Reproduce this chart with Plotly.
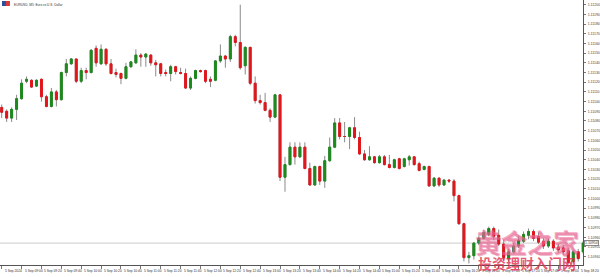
import plotly.graph_objects as go

symbol_title = "EURUSD, M5: Euro vs U.S. Dollar"

open_ = [1.11094, 1.11090, 1.11083, 1.11092, 1.11103, 1.11121, 1.11122, 1.11116, 1.11123, 1.11105,
         1.11095, 1.11110, 1.11102, 1.11130, 1.11139, 1.11144, 1.11121, 1.11132, 1.11130, 1.11155,
         1.11139, 1.11154, 1.11139, 1.11130, 1.11129, 1.11124, 1.11136, 1.11140, 1.11148, 1.11146,
         1.11148, 1.11140, 1.11139, 1.11130, 1.11129, 1.11136, 1.11130, 1.11129, 1.11114, 1.11124,
         1.11132, 1.11132, 1.11123, 1.11122, 1.11142, 1.11147, 1.11144, 1.11167, 1.11161, 1.11137,
         1.11156, 1.11119, 1.11101, 1.11099, 1.11091, 1.11084, 1.11107, 1.11022, 1.11035, 1.11053,
         1.11043, 1.11053, 1.11031, 1.11014, 1.11033, 1.11018, 1.11039, 1.11053, 1.11078, 1.11064,
         1.11064, 1.11073, 1.11063, 1.11046, 1.11040, 1.11043, 1.11037, 1.11043, 1.11035, 1.11032,
         1.11041, 1.11033, 1.11040, 1.11043, 1.11036, 1.11030, 1.11033, 1.11013, 1.11021, 1.11014,
         1.11019, 1.11018, 1.11003, 1.10974, 1.10939, 1.10941, 1.10954, 1.10959, 1.10963, 1.10969,
         1.10962, 1.10953, 1.10938, 1.10945, 1.10951, 1.10956, 1.10962, 1.10966, 1.10961, 1.10956,
         1.10951, 1.10956, 1.10950, 1.10949, 1.10946, 1.10935, 1.10945, 1.10945]
high = [1.11097, 1.11092, 1.11094, 1.11107, 1.11123, 1.11126, 1.11123, 1.11123, 1.11124, 1.11107,
        1.11114, 1.11112, 1.11131, 1.11144, 1.11145, 1.11144, 1.11135, 1.11135, 1.11154, 1.11158,
        1.11159, 1.11155, 1.11144, 1.11134, 1.11130, 1.11140, 1.11142, 1.11154, 1.11150, 1.11150,
        1.11149, 1.11143, 1.11140, 1.11133, 1.11138, 1.11137, 1.11135, 1.11134, 1.11126, 1.11133,
        1.11133, 1.11133, 1.11126, 1.11143, 1.11159, 1.11148, 1.11169, 1.11169, 1.11200, 1.11157,
        1.11156, 1.11126, 1.11107, 1.11109, 1.11093, 1.11108, 1.11107, 1.11043, 1.11058, 1.11058,
        1.11058, 1.11058, 1.11037, 1.11034, 1.11034, 1.11044, 1.11063, 1.11083, 1.11083, 1.11079,
        1.11074, 1.11084, 1.11069, 1.11050, 1.11054, 1.11044, 1.11045, 1.11045, 1.11045, 1.11041,
        1.11042, 1.11042, 1.11045, 1.11044, 1.11038, 1.11034, 1.11034, 1.11022, 1.11022, 1.11020,
        1.11020, 1.11020, 1.11004, 1.10975, 1.10945, 1.10955, 1.10962, 1.10968, 1.10971, 1.10971,
        1.10968, 1.10957, 1.10948, 1.10954, 1.10961, 1.10966, 1.10969, 1.10968, 1.10965, 1.10959,
        1.10959, 1.10958, 1.10953, 1.10952, 1.10949, 1.10947, 1.10948, 1.10956]
low = [1.11083, 1.11079, 1.11079, 1.11081, 1.11102, 1.11119, 1.11114, 1.11115, 1.11100, 1.11094,
       1.11094, 1.11095, 1.11101, 1.11126, 1.11138, 1.11119, 1.11119, 1.11123, 1.11129, 1.11136,
       1.11138, 1.11137, 1.11128, 1.11125, 1.11118, 1.11123, 1.11135, 1.11139, 1.11136, 1.11136,
       1.11137, 1.11126, 1.11126, 1.11126, 1.11121, 1.11128, 1.11128, 1.11113, 1.11112, 1.11123,
       1.11130, 1.11119, 1.11115, 1.11121, 1.11140, 1.11135, 1.11141, 1.11157, 1.11133, 1.11128,
       1.11117, 1.11098, 1.11097, 1.11090, 1.11079, 1.11083, 1.11018, 1.11007, 1.11034, 1.11035,
       1.11042, 1.11030, 1.11013, 1.11013, 1.11014, 1.11011, 1.11038, 1.11052, 1.11061, 1.11058,
       1.11051, 1.11061, 1.11045, 1.11039, 1.11039, 1.11036, 1.11036, 1.11034, 1.11031, 1.11031,
       1.11030, 1.11032, 1.11034, 1.11034, 1.11028, 1.11029, 1.11012, 1.11012, 1.11012, 1.11013,
       1.11016, 1.10997, 1.10973, 1.10935, 1.10933, 1.10937, 1.10952, 1.10958, 1.10961, 1.10957,
       1.10951, 1.10935, 1.10935, 1.10943, 1.10949, 1.10954, 1.10958, 1.10956, 1.10953, 1.10948,
       1.10949, 1.10946, 1.10944, 1.10942, 1.10932, 1.10933, 1.10935, 1.10943]
close = [1.11089, 1.11083, 1.11092, 1.11103, 1.11119, 1.11123, 1.11115, 1.11122, 1.11105, 1.11095,
         1.11110, 1.11102, 1.11130, 1.11139, 1.11144, 1.11121, 1.11132, 1.11130, 1.11153, 1.11140,
         1.11154, 1.11139, 1.11129, 1.11128, 1.11124, 1.11136, 1.11141, 1.11148, 1.11146, 1.11149,
         1.11140, 1.11138, 1.11129, 1.11129, 1.11136, 1.11131, 1.11129, 1.11114, 1.11124, 1.11132,
         1.11131, 1.11121, 1.11121, 1.11142, 1.11147, 1.11144, 1.11167, 1.11161, 1.11135, 1.11156,
         1.11119, 1.11101, 1.11099, 1.11091, 1.11084, 1.11107, 1.11022, 1.11035, 1.11053, 1.11043,
         1.11053, 1.11031, 1.11014, 1.11033, 1.11018, 1.11039, 1.11053, 1.11078, 1.11064, 1.11064,
         1.11073, 1.11063, 1.11046, 1.11040, 1.11043, 1.11037, 1.11043, 1.11035, 1.11032, 1.11040,
         1.11031, 1.11041, 1.11043, 1.11035, 1.11029, 1.11033, 1.11013, 1.11021, 1.11014, 1.11019,
         1.11018, 1.11003, 1.10974, 1.10939, 1.10941, 1.10954, 1.10959, 1.10965, 1.10969, 1.10961,
         1.10953, 1.10939, 1.10945, 1.10951, 1.10957, 1.10963, 1.10966, 1.10959, 1.10955, 1.10951,
         1.10956, 1.10949, 1.10947, 1.10945, 1.10934, 1.10945, 1.10938, 1.10954]
bar_index = list(range(len(close)))

time_label_index = list(range(0, 117, 4))
time_labels = ["5 Sep 2024", "5 Sep 09:00", "5 Sep 09:20", "5 Sep 09:40", "5 Sep 10:00",
               "5 Sep 10:20", "5 Sep 10:40", "5 Sep 11:00", "5 Sep 11:20", "5 Sep 11:40",
               "5 Sep 12:00", "5 Sep 12:20", "5 Sep 12:40", "5 Sep 13:00", "5 Sep 13:20",
               "5 Sep 13:40", "5 Sep 14:00", "5 Sep 14:20", "5 Sep 14:40", "5 Sep 15:00",
               "5 Sep 15:20", "5 Sep 15:40", "5 Sep 16:00", "5 Sep 16:20", "5 Sep 16:40",
               "5 Sep 17:00", "5 Sep 17:20", "5 Sep 17:40", "5 Sep 18:00", "5 Sep 18:20"]

last_price = 1.10954
price_low, price_high = 1.109314, 1.1120485
watermark_1 = "黄金之家"
watermark_2 = "投资理财入门网"

GREEN = "#1c8a1c"
RED = "#e3161c"
WICK = "#8a8a8a"

body_high = [max(o, c) for o, c in zip(open_, close)]
body_low = [min(o, c) for o, c in zip(open_, close)]

fig = go.Figure()
# wicks
fig.add_trace(go.Candlestick(
    x=bar_index, open=open_, high=high, low=low, close=close,
    increasing=dict(line=dict(color=WICK, width=1), fillcolor=WICK),
    decreasing=dict(line=dict(color=WICK, width=1), fillcolor=WICK),
    hoverinfo="skip", showlegend=False))
# bodies
fig.add_trace(go.Candlestick(
    x=bar_index, open=open_, high=body_high, low=body_low, close=close,
    increasing=dict(line=dict(color=GREEN, width=1), fillcolor=GREEN),
    decreasing=dict(line=dict(color=RED, width=1), fillcolor=RED),
    hoverinfo="skip", showlegend=False))

fig.add_shape(type="line", xref="paper", x0=0, x1=1, yref="y", y0=last_price, y1=last_price,
              line=dict(color="#cccccc", width=1), layer="below")

annotations = []
for idx, txt in zip(time_label_index, time_labels):
    annotations.append(dict(x=idx, xref="x", y=0, yref="paper", yanchor="top", xanchor="left",
                            yshift=-2, xshift=1, text=txt, showarrow=False,
                            font=dict(size=3.3, color="#333333", family="Arial")))
annotations.append(dict(x=1, xref="paper", y=last_price, yref="y", xanchor="left", xshift=1,
                        text="%.5f" % last_price, showarrow=False, bgcolor="white",
                        bordercolor="#888888", borderwidth=1, borderpad=0,
                        font=dict(size=3.5, color="#333333", family="Arial")))
annotations.append(dict(x=12 / 586, xref="paper", y=1, yref="paper", xanchor="left", yanchor="top",
                        yshift=-1, text=symbol_title, showarrow=False,
                        font=dict(size=3.2, color="#333333", family="Arial")))
annotations.append(dict(x=530 / 586, xref="paper", y=(265 - 241) / 265, yref="paper",
                        xanchor="center", yanchor="middle", text="<b>" + watermark_1 + "</b>",
                        showarrow=False,
                        font=dict(size=26, color="rgba(238,110,155,0.62)", family="Noto Sans CJK SC",
                                  shadow="1px 1px 0px rgba(200,40,90,0.5)")))
annotations.append(dict(x=530 / 586, xref="paper", y=(265 - 263) / 265, yref="paper",
                        xanchor="center", yanchor="middle", text="<b>" + watermark_2 + "</b>",
                        showarrow=False,
                        font=dict(size=14, color="rgba(226,45,75,0.78)", family="Noto Sans CJK SC")))

fig.add_shape(type="rect", xref="paper", yref="paper", x0=2 / 586, x1=6 / 586,
              y0=(265 - 6) / 265, y1=(265 - 1) / 265, fillcolor="#2d4f9e", line=dict(width=0))
fig.add_shape(type="rect", xref="paper", yref="paper", x0=6 / 586, x1=10 / 586,
              y0=(265 - 6) / 265, y1=(265 - 1) / 265, fillcolor="#d83a3a", line=dict(width=0))

fig.update_layout(
    width=600, height=277,
    margin=dict(l=0, r=14, t=0, b=12),
    paper_bgcolor="white", plot_bgcolor="white",
    boxgap=0.45, boxmode="overlay",
    showlegend=False,
    annotations=annotations,
    xaxis=dict(range=[-0.34, 116.96], rangeslider=dict(visible=False), showgrid=False,
               zeroline=False, showline=True, linecolor="#555555", linewidth=1,
               tickmode="array", tickvals=time_label_index, ticks="outside", ticklen=3,
               tickcolor="#777777", showticklabels=False, fixedrange=True),
    yaxis=dict(range=[price_low, price_high], side="right", showgrid=False, zeroline=False,
               showline=True, linecolor="#555555", linewidth=1,
               tick0=1.1094, dtick=0.0001, tickformat=".5f", ticks="outside", ticklen=2,
               tickcolor="#777777", tickfont=dict(size=3.5, color="#444444", family="Arial"),
               ticklabelstandoff=1, fixedrange=True),
)

fig.write_html("out.html")
